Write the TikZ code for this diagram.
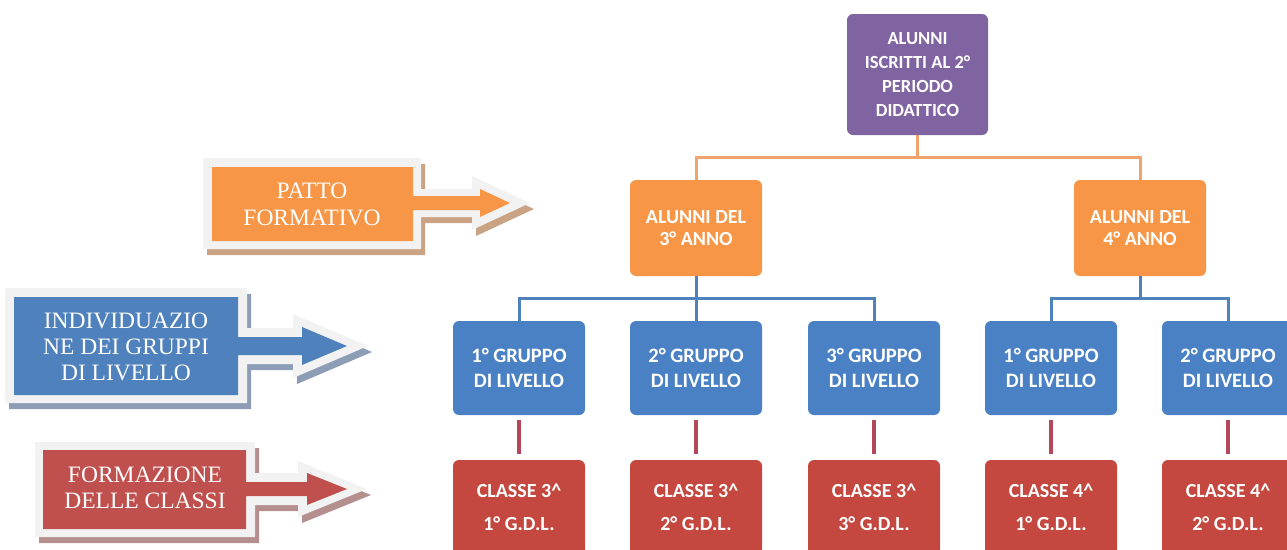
\documentclass[tikz,border=0pt]{standalone}
\usepackage{fontspec}
\newfontfamily\calfont{Carlito}
\newfontfamily\timesfont{Liberation Serif}
\definecolor{purp}{HTML}{8064A2}
\definecolor{orng}{HTML}{F79646}
\definecolor{blu}{HTML}{4A80C4}
\definecolor{rd}{HTML}{C4483F}
\definecolor{aorng}{HTML}{F79646}
\definecolor{ablu}{HTML}{4F81BD}
\definecolor{ard}{HTML}{C0504D}
\definecolor{shorng}{HTML}{C9A384}
\definecolor{shblu}{HTML}{8C9DB5}
\definecolor{shrd}{HTML}{B58E8E}
\definecolor{bord}{HTML}{F2F2F2}
\definecolor{olinec}{HTML}{EFA46E}
\definecolor{blinec}{HTML}{4F81BD}
\definecolor{rlinec}{HTML}{B5475A}
\tikzset{
  box/.style={rounded corners=6pt, minimum width=132pt, minimum height=95pt,
    text=white, align=center, inner sep=0pt},
  pbox/.style={box, fill=purp, minimum width=141pt, minimum height=121pt,
    font=\calfont\bfseries\fontsize{18.5}{24}\selectfont},
  obox/.style={box, fill=orng, minimum height=96pt,
    font=\calfont\bfseries\fontsize{20}{22}\selectfont},
  bbox/.style={box, fill=blu, minimum height=94pt,
    font=\calfont\bfseries\fontsize{20.5}{25}\selectfont},
  rbox/.style={box, fill=rd, font=\calfont\bfseries\fontsize{20}{33}\selectfont},
  oline/.style={draw=olinec, line width=3pt},
  bline/.style={draw=blinec, line width=3pt},
  rline/.style={draw=rlinec, line width=4pt, shorten <=5pt, shorten >=6pt},
  arrtext/.style={text=white, align=center, inner sep=0pt,
    font=\timesfont\fontsize{23.5}{26.5}\selectfont},
}
\begin{document}
\begin{tikzpicture}[x=1pt,y=-1pt]
\useasboundingbox (0,0) rectangle (1287,549);
% ---------- left arrows ----------
% PATTO FORMATIVO (orange)
\fill[shorng, shift={(4,6)}] (203,158) -- (421,158) -- (421,189) -- (472,189) -- (472,176) -- (530,203) -- (472,230) -- (472,217) -- (421,217) -- (421,249) -- (203,249) -- cycle;
\fill[bord] (203,158) -- (421,158) -- (421,189) -- (472,189) -- (472,176) -- (530,203) -- (472,230) -- (472,217) -- (421,217) -- (421,249) -- (203,249) -- cycle;
\fill[aorng] (212,167) -- (413,167) -- (413,196) -- (480,196) -- (480,189) -- (510,203) -- (480,217) -- (480,210) -- (413,210) -- (413,241) -- (212,241) -- cycle;
\node[arrtext, font=\timesfont\fontsize{23.5}{27}\selectfont] (patto) at (312,204) {PATTO\\FORMATIVO};
% INDIVIDUAZIONE (blue)
\fill[shblu, shift={(4,6)}] (5,288) -- (247,288) -- (247,328) -- (293,328) -- (293,314) -- (368,346) -- (293,378) -- (293,364) -- (247,364) -- (247,403) -- (5,403) -- cycle;
\fill[bord] (5,288) -- (247,288) -- (247,328) -- (293,328) -- (293,314) -- (368,346) -- (293,378) -- (293,364) -- (247,364) -- (247,403) -- (5,403) -- cycle;
\fill[ablu] (14,297) -- (238,297) -- (238,337) -- (302,337) -- (302,327) -- (347,346) -- (302,365) -- (302,355) -- (238,355) -- (238,395) -- (14,395) -- cycle;
\node[arrtext, font=\timesfont\fontsize{23.5}{26}\selectfont] (indiv) at (126,346.5) {INDIVIDUAZIO\\NE DEI GRUPPI\\DI LIVELLO};
% FORMAZIONE DELLE CLASSI (red)
\fill[shrd, shift={(4,6)}] (35,442) -- (255,442) -- (255,473) -- (298,473) -- (298,461) -- (367,489) -- (298,517) -- (298,505) -- (255,505) -- (255,537) -- (35,537) -- cycle;
\fill[bord] (35,442) -- (255,442) -- (255,473) -- (298,473) -- (298,461) -- (367,489) -- (298,517) -- (298,505) -- (255,505) -- (255,537) -- (35,537) -- cycle;
\fill[ard] (43,450) -- (246,450) -- (246,482) -- (307,482) -- (307,473) -- (347,489) -- (307,505) -- (307,496) -- (246,496) -- (246,529) -- (43,529) -- cycle;
\node[arrtext] (formaz) at (145,488) {FORMAZIONE\\DELLE CLASSI};
% ---------- org chart ----------
\node[pbox] (top) at (917.5,74.5) {ALUNNI\\ISCRITTI AL 2°\\PERIODO\\DIDATTICO};
\node[obox] (a3) at (696,228) {ALUNNI DEL\\3° ANNO};
\node[obox] (a4) at (1140,228) {ALUNNI DEL\\4° ANNO};
\node[bbox] (g1) at (519,368) {1° GRUPPO\\DI LIVELLO};
\node[bbox] (g2) at (696,368) {2° GRUPPO\\DI LIVELLO};
\node[bbox] (g3) at (874,368) {3° GRUPPO\\DI LIVELLO};
\node[bbox] (g4) at (1051,368) {1° GRUPPO\\DI LIVELLO};
\node[bbox] (g5) at (1228,368) {2° GRUPPO\\DI LIVELLO};
\node[rbox] (c1) at (519,507.5) {CLASSE 3\textasciicircum\\1° G.D.L.};
\node[rbox] (c2) at (696,507.5) {CLASSE 3\textasciicircum\\2° G.D.L.};
\node[rbox] (c3) at (874,507.5) {CLASSE 3\textasciicircum\\3° G.D.L.};
\node[rbox] (c4) at (1051,507.5) {CLASSE 4\textasciicircum\\1° G.D.L.};
\node[rbox] (c5) at (1228,507.5) {CLASSE 4\textasciicircum\\2° G.D.L.};
% connectors
\draw[oline] (top.south) -- ++(0,22) -| (a3.north);
\draw[oline] (top.south) -- ++(0,22) -| (a4.north);
\draw[bline] (a3.south) -- ++(0,22) -| (g1.north);
\draw[bline] (a3.south) -- ++(0,22) -| (g3.north);
\draw[bline] (a3.south) -- (g2.north);
\draw[bline] (a4.south) -- ++(0,22) -| (g4.north);
\draw[bline] (a4.south) -- ++(0,22) -| (g5.north);
\draw[rline] (g1.south) -- (c1.north);
\draw[rline] (g2.south) -- (c2.north);
\draw[rline] (g3.south) -- (c3.north);
\draw[rline] (g4.south) -- (c4.north);
\draw[rline] (g5.south) -- (c5.north);
\end{tikzpicture}
\end{document}
